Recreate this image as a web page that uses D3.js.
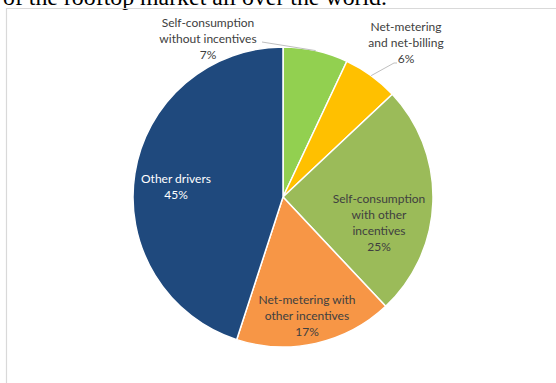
<!DOCTYPE html>
<html>
<head>
<meta charset="utf-8">
<script src="https://cdn.jsdelivr.net/npm/d3@7"></script>
<style>
  html, body { margin: 0; padding: 0; background: #fff; }
  svg { display: block; }
</style>
</head>
<body>
<svg id="chart" width="556" height="383"></svg>
<script>
// Market drivers of rooftop PV, share of the market
const categories = [
  "Self-consumption without incentives",
  "Net-metering and net-billing",
  "Self-consumption with other incentives",
  "Net-metering with other incentives",
  "Other drivers"
];
const shares = [7, 6, 25, 17, 45];
const labelLines = [
  ["Self-consumption", "without incentives"],
  ["Net-metering", "and net-billing"],
  ["Self-consumption", "with other", "incentives"],
  ["Net-metering with", "other incentives"],
  ["Other drivers"]
];
const colors = ["#92D050", "#FFC000", "#9BBB59", "#F79646", "#1F497D"];

const svg = d3.select("#chart");
const W = 556, H = 383;

// Caption fragment above the chart frame
svg.append("text")
  .attr("x", 3).attr("y", 5)
  .attr("font-family", "'Liberation Serif', 'DejaVu Serif', serif")
  .attr("font-size", 23)
  .attr("textLength", 384)
  .attr("lengthAdjust", "spacingAndGlyphs")
  .attr("fill", "#000")
  .text("of the rooftop market all over the world.");

// Chart frame
svg.append("path")
  .attr("d", `M6.5,${H} V8.5 H${W}`)
  .attr("fill", "none")
  .attr("stroke", "#d9d9d9")
  .attr("stroke-width", 1.2);

const cx = 283, cy = 197, R = 150;
const g = svg.append("g").attr("transform", `translate(${cx},${cy})`);

const pie = d3.pie().sort(null).value(d => d.v);
const data = pie(shares.map((v, i) => ({ v, i })));
const arc = d3.arc().innerRadius(0).outerRadius(R);

g.selectAll("path.slice")
  .data(data)
  .join("path")
  .attr("class", "slice")
  .attr("d", arc)
  .attr("fill", d => colors[d.data.i])
  .attr("stroke", "#fff")
  .attr("stroke-width", 1.5)
  .attr("stroke-linejoin", "round");

// Label positions (relative to the pie centre) and text colours
const font = "Lato, 'Open Sans', sans-serif";
const fs = 12, lh = 16;
const labelPos = [
  { x: -75, y: -170.5, fill: "#404040" },
  { x: 123, y: -166.5, fill: "#404040" },
  { x: 96, y: 5.5, fill: "#404040" },
  { x: 24, y: 106.5, fill: "#404040" },
  { x: -107, y: -14.5, fill: "#ffffff" }
];

// Leader lines for the two small outside labels
const leader = [
  { from: [-21, -155], mid: null },
  { from: [114, -134], mid: [111, -134] }
];
leader.forEach((l, k) => {
  const d = data[k];
  const a = (d.startAngle + d.endAngle) / 2;
  const edge = [Math.sin(a) * R, -Math.cos(a) * R];
  const pts = [l.from];
  if (l.mid) pts.push(l.mid);
  pts.push(edge);
  g.append("path")
    .attr("d", d3.line()(pts))
    .attr("fill", "none")
    .attr("stroke", "#bfbfbf")
    .attr("stroke-width", 1);
});

data.forEach((d, k) => {
  const p = labelPos[k];
  const lines = labelLines[k].concat([d3.format(".0f")(d.data.v) + "%"]);
  const t = g.append("text")
    .attr("font-family", font)
    .attr("font-size", fs)
    .attr("fill", p.fill)
    .attr("text-anchor", "middle");
  lines.forEach((s, j) => {
    t.append("tspan")
      .attr("x", p.x)
      .attr("y", p.y + j * lh)
      .text(s);
  });
});
</script>
</body>
</html>
